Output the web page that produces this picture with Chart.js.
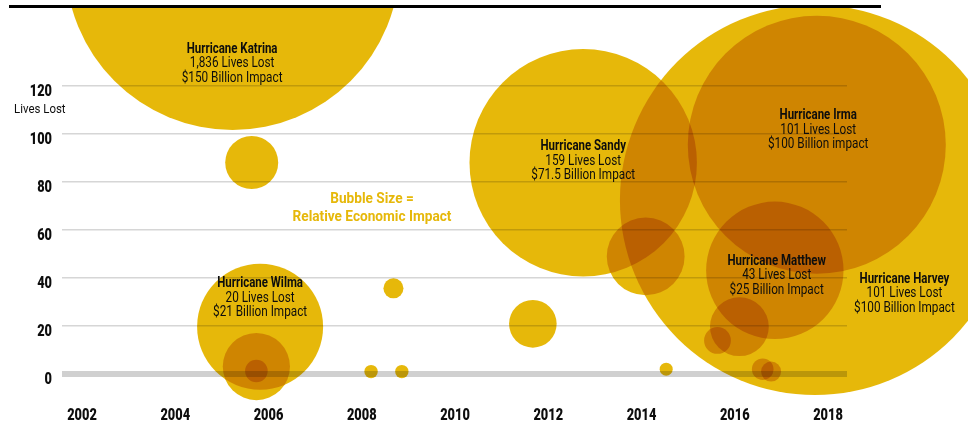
<!DOCTYPE html>
<html>
<head>
<meta charset="utf-8">
<script src="https://cdn.jsdelivr.net/npm/chart.js@4.4.1/dist/chart.umd.min.js"></script>
<style>
  html, body { margin: 0; padding: 0; background: #fff; }
  #wrap { width: 968px; height: 427px; position: relative; }
</style>
</head>
<body>
<div id="wrap"><canvas id="myChart"></canvas></div>
<script>
const FONT = 'Roboto, "Liberation Sans", sans-serif';
const GOLD = 'rgb(230, 184, 10)';
const INK = '#0d0d0d';

// bubbles (year, lives lost on the chart scale, bubble size = relative impact)
const years = [2005.23, 2005.64, 2005.82, 2005.74, 2005.74, 2008.68, 2008.20, 2008.86, 2011.67, 2014.53,
               2012.75, 2014.09, 2017.76, 2017.72, 2016.86, 2016.10, 2015.63, 2016.60, 2016.78];
const lives = [171.3, 88.1, 19.7, 3.1, 1.25, 35.7, 1.0, 1.0, 20.9, 2.0,
               88.0, 49.0, 95.5, 72.5, 43.2, 19.7, 14.0, 2.0, 1.0];
const impactSize = [167, 26.5, 63, 33.6, 11.3, 10, 6.7, 6.7, 23.8, 6.5,
                    113.7, 38.9, 129, 195, 68.7, 29.4, 13.4, 10.8, 10];

// annotated storms
const stormNames = ['Hurricane Katrina', 'Hurricane Wilma', 'Hurricane Sandy', 'Hurricane Irma', 'Hurricane Matthew', 'Hurricane Harvey'];
const stormLives = ['1,836 Lives Lost', '20 Lives Lost', '159 Lives Lost', '101 Lives Lost', '43 Lives Lost', '101 Lives Lost'];
const stormImpact = ['$150 Billion Impact', '$21 Billion Impact', '$71.5 Billion Impact', '$100 Billion impact', '$25 Billion Impact', '$100 Billion Impact'];
const labelYears = [2005.22, 2005.82, 2012.75, 2017.79, 2016.90, 2019.64];
const labelLives = [129.2, 31.5, 88.75, 101.5, 41.0, 33.5];

const xTicks = [2002, 2004, 2006, 2008, 2010, 2012, 2014, 2016, 2018];
const yTicks = [0, 20, 40, 60, 80, 100, 120];

const bubbleData = years.map((yr, i) => ({ x: yr, y: lives[i], r: impactSize[i] }));

// condensed look: no narrow face installed, so squeeze the text horizontally
function drawText(ctx, text, x, y, font, sx, align) {
    ctx.save();
    ctx.font = font;
    ctx.textAlign = align || 'center';
    ctx.textBaseline = 'middle';
    ctx.translate(x, y);
    ctx.scale(sx, 1);
    ctx.fillText(text, 0, 0);
    ctx.restore();
}

// bubbles are multiplied onto each other (overlaps go orange)
const multiplyPlugin = {
    id: 'multiply',
    beforeDraw(chart) {
        const ctx = chart.ctx;
        ctx.save();
        ctx.fillStyle = '#fff';
        ctx.fillRect(0, 0, chart.width, chart.height);
        ctx.restore();
    },
    beforeDatasetsDraw(chart) {
        chart.ctx.save();
        chart.ctx.globalCompositeOperation = 'multiply';
    },
    afterDatasetsDraw(chart) {
        chart.ctx.restore();
    }
};

const textPlugin = {
    id: 'texts',
    afterDraw(chart) {
        const { ctx, scales: { x, y } } = chart;
        ctx.save();
        ctx.fillStyle = INK;

        // tick labels from the scales
        y.ticks.forEach(t => {
            drawText(ctx, String(t.value), 52, y.getPixelForValue(t.value) + 5.5, '900 16px ' + FONT, 0.8, 'right');
        });
        x.ticks.forEach(t => {
            drawText(ctx, String(t.value), x.getPixelForValue(t.value), 415.5, '900 16px ' + FONT, 0.8, 'center');
        });

        stormNames.forEach((name, i) => {
            const px = x.getPixelForValue(labelYears[i]);
            const py = y.getPixelForValue(labelLives[i]);
            drawText(ctx, name, px, py - 14.5, 'bold 14px ' + FONT, 0.82);
            drawText(ctx, stormLives[i], px, py, '14px ' + FONT, 0.84);
            drawText(ctx, stormImpact[i], px, py + 14.5, '14px ' + FONT, 0.84);
        });

        // legend note
        ctx.fillStyle = GOLD;
        const nx = x.getPixelForValue(2008.22), ny = y.getPixelForValue(69.2);
        drawText(ctx, 'Bubble Size =', nx, ny - 9, 'bold 15.5px ' + FONT, 0.88);
        drawText(ctx, 'Relative Economic Impact', nx, ny + 9, 'bold 15.5px ' + FONT, 0.88);

        // axis unit under the top tick
        ctx.fillStyle = INK;
        drawText(ctx, 'Lives Lost', 14, y.getPixelForValue(120) + 24, '13px ' + FONT, 0.88, 'left');

        // black rule at the top
        ctx.strokeStyle = '#000';
        ctx.lineWidth = 3;
        ctx.beginPath();
        ctx.moveTo(9, 6.5);
        ctx.lineTo(881, 6.5);
        ctx.stroke();
        ctx.restore();
    }
};

new Chart(document.getElementById('myChart'), {
    type: 'bubble',
    data: {
        datasets: [{
            data: bubbleData,
            backgroundColor: GOLD,
            borderWidth: 0,
            hoverBorderWidth: 0,
            clip: { left: false, top: 0, right: false, bottom: false }
        }]
    },
    options: {
        responsive: true,
        maintainAspectRatio: false,
        animation: false,
        events: [],
        layout: { autoPadding: false, padding: { left: 0, top: 8, right: 121, bottom: 0 } },
        plugins: { legend: { display: false }, tooltip: { enabled: false } },
        scales: {
            x: {
                type: 'linear',
                min: 2001.571,
                max: 2018.408,
                afterBuildTicks: scale => { scale.ticks = xTicks.map(v => ({ value: v })); },
                afterFit: scale => { scale.height = 27; },
                grid: { display: false, drawTicks: false },
                border: { display: false },
                ticks: { display: false }
            },
            y: {
                min: -10.833,
                max: 152.5,
                afterBuildTicks: scale => { scale.ticks = yTicks.map(v => ({ value: v })); },
                afterFit: scale => { scale.width = 62; },
                border: { display: false },
                grid: {
                    drawTicks: false,
                    color: c => c.tick && c.tick.value === 0 ? 'rgb(208, 208, 208)' : 'rgb(214, 214, 214)',
                    lineWidth: c => c.tick && c.tick.value === 0 ? 6 : 1.5
                },
                ticks: { display: false }
            }
        }
    },
    plugins: [multiplyPlugin, textPlugin]
});
</script>
</body>
</html>
